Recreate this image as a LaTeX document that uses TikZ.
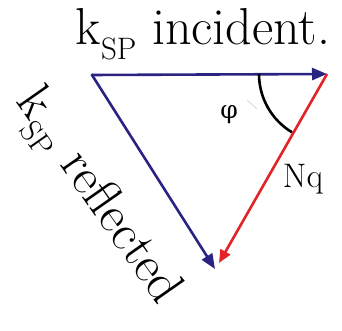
\documentclass[tikz,border=0pt]{standalone}
\usepackage{fontspec}
\newfontfamily\dvs{DejaVu Serif}
\usetikzlibrary{arrows.meta}
\definecolor{navy}{RGB}{43,35,130}
\definecolor{redv}{RGB}{228,35,38}
\begin{document}
\begin{tikzpicture}[x=1pt,y=1pt,
  vec/.style={line width=2.6pt,-{Triangle[length=15pt,width=12pt]}},
  bigtext/.style={font=\fontsize{52}{52}\selectfont,inner sep=0pt},
  lbl/.style={font=\fontsize{34}{34}\selectfont,inner sep=0pt}]
\useasboundingbox (0,0) rectangle (342,331);
\coordinate (A) at (92,256);
\coordinate (B) at (327,257);
\coordinate (C) at (215,62);
\coordinate (Cr) at (219,68);
\draw[vec,navy] (A) -- (B);
\draw[vec,navy,shorten <=-1pt] (A) -- (C);
\draw[vec,redv,-{Triangle[length=13pt,width=11pt]}] (B) -- (Cr);
\draw[line width=2.6pt] ([shift={(180:68)}]B) arc[start angle=180,end angle=239,radius=68];
\draw[gray!40,line width=0.6pt] (247,231) -- (257,222);
\node[bigtext,anchor=base] (inc) at (203,286) {k\raisebox{-0.28em}{\fontsize{31}{31}\selectfont SP} incident.};
\node[bigtext,rotate=-55] (refl) at (96,133) {k\raisebox{-0.28em}{\fontsize{31}{31}\selectfont SP} reflected};
\node[font=\dvs\fontsize{25}{25}\selectfont,inner sep=0pt] (phi) at (229,216) {φ};
\node[lbl] (nq) at (303,152) {Nq};
\end{tikzpicture}
\end{document}
